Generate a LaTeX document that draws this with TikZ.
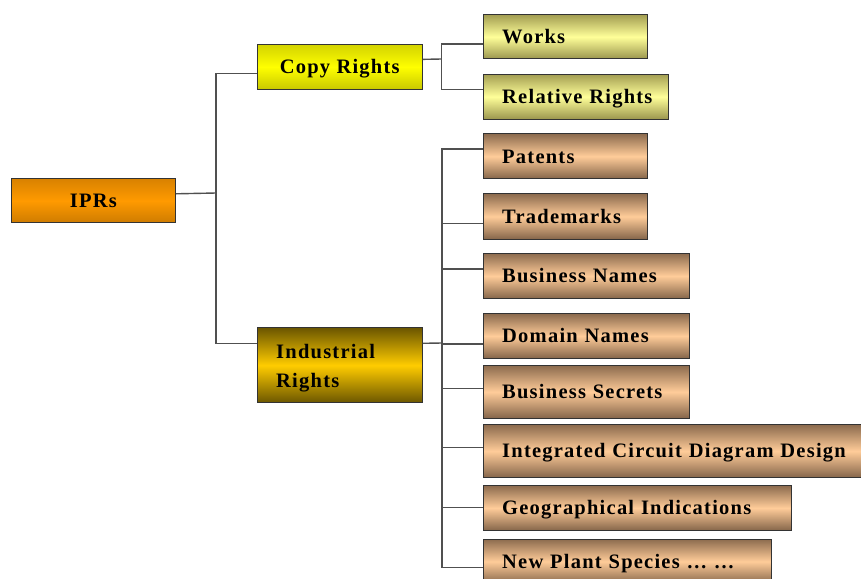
\documentclass[tikz,border=0pt]{standalone}
\usepackage{fontspec}
\setmainfont{Liberation Serif}[LetterSpace=6]

\definecolor{orangetop}{HTML}{D98200}
\definecolor{orangemid}{HTML}{FF9A00}
\definecolor{yellowtop}{HTML}{D2D200}
\definecolor{yellowmid}{HTML}{FFFF00}
\definecolor{goldtop}{HTML}{6B5600}
\definecolor{goldmid}{HTML}{FFCC00}
\definecolor{paletop}{HTML}{A39E52}
\definecolor{palemid}{HTML}{FFFF99}
\definecolor{tantop}{HTML}{8C6B4E}
\definecolor{tanmid}{HTML}{FFCC99}
\definecolor{linkgray}{HTML}{505050}

\tikzset{
  base/.style={draw=black!80, line width=1pt, anchor=north west, inner ysep=0pt,
    font=\bfseries\fontsize{20.5}{29}\selectfont},
  box/.style={base, text height=13.6pt, text depth=0pt},
  leaf/.style={box, inner xsep=0pt, align=left, text width=#1,
    execute at begin node={\hspace*{19pt}}},
  ipr/.style={top color=orangetop, bottom color=orangetop!95!black, middle color=orangemid},
  copyfill/.style={top color=yellowtop, bottom color=yellowtop!95!black, middle color=yellowmid},
  goldfill/.style={top color=goldtop, bottom color=goldtop, middle color=goldmid},
  palefill/.style={top color=paletop, bottom color=paletop!95!black, middle color=palemid},
  tanfill/.style={top color=tantop, bottom color=tantop!95!black, middle color=tanmid},
  link/.style={draw=linkgray, line width=1.4pt}
}

\begin{document}
\begin{tikzpicture}[x=1pt, y=-1pt]
  \useasboundingbox (0,0) rectangle (861,578);

  \node[box, ipr, minimum width=164.3pt, minimum height=44pt] (ipr) at (10.7,178.3) {IPRs};
  \node[box, copyfill, minimum width=165pt, minimum height=45.3pt] (copy) at (256.7,43.7) {Copy Rights};
  \node[base, goldfill, inner xsep=19pt, text width=127pt, text depth=27pt, align=left,
    minimum height=75pt] (industrial) at (256.7,327.3) {Industrial\\Rights};

  \node[leaf=164.6pt, palefill, minimum height=44pt] (works) at (482.7,14.3) {Works};
  \node[leaf=185.3pt, palefill, minimum height=45pt] (relative) at (482.7,73.7) {Relative Rights};

  \node[leaf=164.6pt, tanfill, minimum height=45pt] (patents) at (482.7,133.3) {Patents};
  \node[leaf=164.6pt, tanfill, minimum height=45.4pt] (trademarks) at (482.7,193.3) {Trademarks};
  \node[leaf=206pt, tanfill, minimum height=45.6pt] (business) at (482.7,252.7) {Business Names};
  \node[leaf=206pt, tanfill, minimum height=44.4pt] (domain) at (482.7,313.3) {Domain Names};
  \node[leaf=206pt, tanfill, minimum height=52.7pt] (secrets) at (482.7,365) {Business Secrets};
  \node[leaf=390pt, tanfill, minimum height=52.7pt] (circuit) at (482.7,424.3) {Integrated Circuit Diagram Design};
  \node[leaf=308.3pt, tanfill, minimum height=45pt] (geo) at (482.7,485) {Geographical Indications};
  \node[leaf=288pt, tanfill, minimum height=45pt] (plant) at (482.7,538.5) {New Plant Species \dots\ \dots};

  \coordinate (t1) at (216,193);
  \coordinate (t2) at (441.7,59);
  \coordinate (t3) at (442,343);

  \draw[link] ([yshift=7pt]ipr.east) -- (t1);
  \draw[link] ([yshift=-6.5pt]copy.west) -| (t1) |- ([yshift=22pt]industrial.west);

  \draw[link] ([yshift=7.5pt]copy.east) -- (t2);
  \draw[link] ([yshift=-7.4pt]works.west) -| (t2) |- ([yshift=7pt]relative.west);

  \draw[link] ([yshift=22pt]industrial.east) -- (t3);
  \draw[link] ([yshift=7.5pt]patents.west) -| (t3) |- ([yshift=-5.7pt]plant.west);
  \foreach \n/\s in {trademarks/-6.7, business/7.2, domain/-7.8, secrets/3.6, circuit/3.7, geo/0.8}
    \draw[link] ([yshift=\s pt]\n.west) -| (t3);
\end{tikzpicture}
\end{document}
